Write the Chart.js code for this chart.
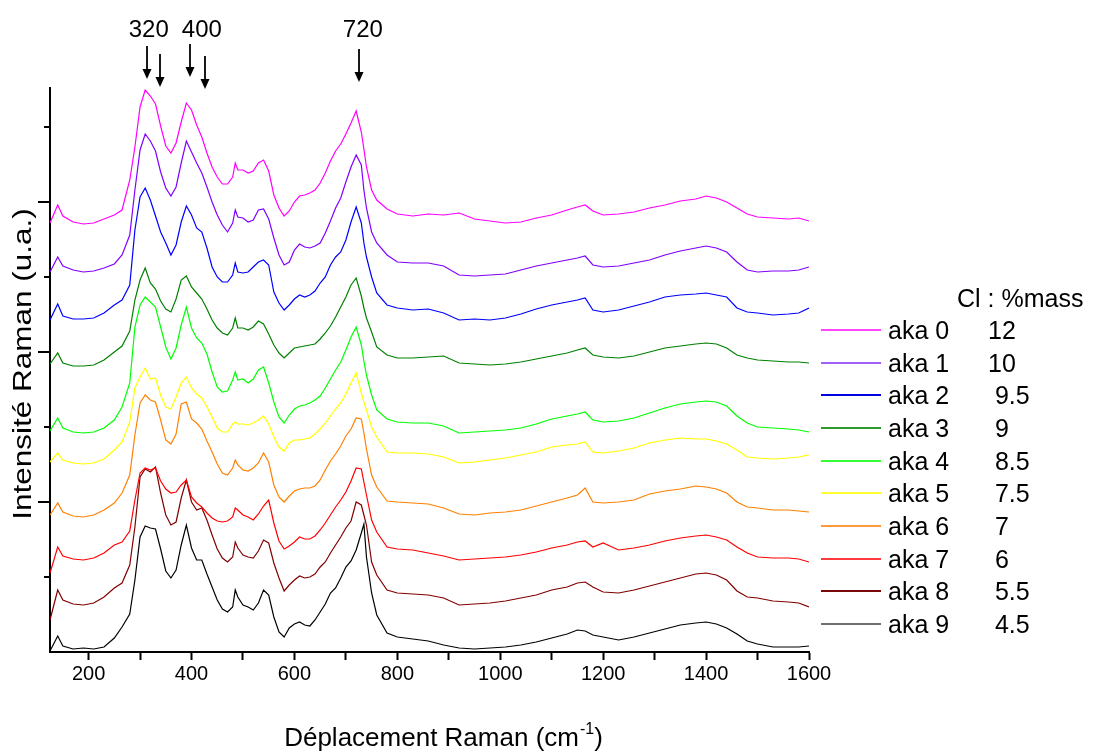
<!DOCTYPE html>
<html><head><meta charset="utf-8">
<script src="https://cdn.jsdelivr.net/npm/chart.js@4.4.0/dist/chart.umd.min.js"></script>
<style>html,body{margin:0;padding:0;background:#fff;}#wrap{width:1094px;height:752px;}</style>
</head><body><div id="wrap"><canvas id="c" width="1094" height="752"></canvas></div>
<script>
// Raman shift (cm-1) sampling grid
const wavenumbers = [125,140,150,170,190,210,230,250,265,280,290,300,
310,320,330,340,350,360,370,380,390,400,410,420,430,440,450,460,470,480,485,
490,500,510,520,530,540,550,560,570,580,590,600,610,620,630,640,650,660,670,680,690,700,710,720,730,735,
740,750,760,780,800,830,860,890,920,950,980,1010,1040,1070,1100,1130,1150,1165,1180,1200,
1230,1260,1290,1320,1350,1380,1400,1420,1440,1460,1480,1500,1530,1560,1580,1600];

// Stacked intensities (u.a.)
const aka0 = [429,447,436,430,428,429,433,437, 442,472,505,545,
562,556,548,526,506,499,509,530,549,542,527,515,499,485,475,468,468,475, 489,
482,482,479,481,489,492,481,457,444,436,441,450,456,457,459,462,469,479,491,501,508,518,529,541,520, 503,
485,462,452, 443,438, 436,438,437,439,433,431,429,430,434,437,442, 445,447,441,437,
438,440,444,447,451,453, 456,454,450,444,438,435, 434,433,434,431];
const aka1 = [380,395,386,382,380,381,384,388, 397,417,462,502,
518,511,501,480,464,456,465,489,511,500,489,479,465,450,437,427,420,429, 442,
435,434,430,432,442,443,433,414,397,387,390,402,408,405,404,406,409,419,431,444,454,470,485,497,487, 462,
444,420,409, 397,390, 389,389,386,377,376,377,378,382,386,389,392, 394,396,387,385,
386,389,392,397,401,404, 406,404,400,390,382,380, 381,381,382,385];
const aka2 = [332,348,336,333,333,334,339,347, 352,367,422,455,
464,452,436,420,409,397,407,430,446,437,424,420,404,385,375,370,370,377, 389,
380,379,380,385,390,392,387,360,349,342,347,353,357,355,357,361,369,375,387,395,400,412,430,445,429, 409,
395,375,359, 347,344, 342,343,339,332,333,332,334,338,343,347,350, 352,354,342,340,
342,346,350,355,357,358, 359,357,355,344,340,339, 337,338,339,344];
const aka3 = [288,299,289,286,286,287,292,300, 306,321,352,372,
384,369,363,351,343,340,353,372,376,365,359,353,343,332,324,319,317,324, 334,
324,324,322,325,331,328,318,307,299,294,299,304,305,306,307,308,313,319,326,335,345,355,367,374,356, 344,
334,320,305, 297,294, 294,295,296,289,288,287,288,290,293,296,299, 302,304,297,295,
294,296,300,304,306,308, 309,308,304,297,294,292, 291,290,290,289];
const aka4 = [221,234,224,220,219,220,224,232, 245,269,325,347,
355,350,345,325,305,293,304,327,345,324,314,309,298,280,265,260,261,272, 280,
272,273,269,273,282,285,269,250,235,229,237,243,246,247,249,252,256,264,273,282,290,302,315,325,307, 291,
277,257,242, 233,230, 229,229,226,219,220,221,222,224,228,233,236, 238,240,232,230,
231,234,239,244,248,250, 251,250,246,236,229,225, 224,223,222,220];
const aka5 = [190,199,192,189,188,189,193,202, 210,230,264,275,
284,273,274,257,245,243,255,269,275,264,258,254,245,235,224,220,220,228, 230,
228,228,227,229,232,236,228,215,205,201,209,212,212,213,214,218,223,229,236,243,249,258,269,279,259, 250,
242,225,215, 200,199, 199,198,195,189,190,192,194,197,200,205,207, 208,210,200,199,
201,204,209,212,214,213, 213,211,208,202,195,194, 193,194,195,197];
const aka6 = [137,149,140,136,135,137,142,149, 159,177,217,249,
257,252,250,232,212,208,218,248,250,233,229,223,211,200,188,179,177,184, 192,
187,182,181,184,189,199,190,167,155,150,156,161,163,164,164,166,172,182,191,198,206,216,223,234,233, 219,
203,177,165, 151,150, 149,148,144,138,137,139,140,142,146,150,154, 157,164,150,149,
150,152,158,161,163,166, 165,163,159,150,145,144, 142,142,141,140];
const aka7 = [79,105,96,93,92,94,99,107, 110,121,152,179,
184,182,184,171,163,159,160,167,172,155,149,145,139,134,131,130,131,135, 144,
142,137,135,132,138,146,152,129,111,103,106,110,115,113,113,116,122,129,137,145,152,160,171,184,183, 170,
157,132,120, 105,103, 102,99,96,92,93,94,95,97,100,104,107, 110,111,105,109,
102,104,107,111,114,116, 117,115,112,105,99,95, 94,94,93,90];
const aka8 = [32,62,52,48,47,49,55,64, 69,87,125,175,
183,180,185,159,137,127,130,154,172,150,142,144,132,117,103,94,90,95, 110,
104,97,95,94,101,112,109,89,74,61,67,72,76,74,75,78,85,90,99,107,115,124,131,150,147, 137,
127,90,77, 62,59, 58,57,54,47,48,49,51,54,57,62,65, 69,70,65,60,
59,62,66,70,74,78, 79,77,72,61,55,54, 51,50,49,45];
const aka9 = [1,16,6,3,4,3,5,14, 25,38,72,115,
126,124,123,103,81,74,82,107,127,104,92,92,78,65,52,43,40,45, 62,
55,47,45,42,49,62,57,35,20,15,24,28,30,27,26,32,40,48,59,64,74,85,91,102,119, 128,
95,59,37, 19,15, 13,11,7,4,3,4,5,7,10,14,18, 22,21,17,15,
12,15,19,23,27,29, 30,28,24,18,11,8, 5,5,5,6];

const sampleNames = ['aka 0','aka 1','aka 2','aka 3','aka 4','aka 5','aka 6','aka 7','aka 8','aka 9'];
const clMass = ['12','10','9.5','9','8.5','7.5','7','6','5.5','4.5'];
const seriesList = [aka0,aka1,aka2,aka3,aka4,aka5,aka6,aka7,aka8,aka9];
const lineColors = ['#ff00ff','#8000ff','#0000ff','#008000','#00ff00','#ffff00','#ff8000','#ff0000','#800000','#000000'];
const legendColors = ['#ff44ff','#a060f8','#0000e0','#2e9a2e','#33ff33','#ffff33','#ff9a3a','#ff3a3a','#7a0a0a','#707070'];

const xTickValues = [200,300,400,500,600,700,800,900,1000,1100,1200,1300,1400,1500,1600];
const yMajorTicks = [150,300,450];
const yMinorTicks = [75,225,375,525];

const peakLabels = ['320','400','720'];
const peakLabelPos = [317,420,733];
const arrowPos = [313,339,397,426,725];

const FONT = "'Liberation Sans', Arial, Helvetica, sans-serif";

const decor = {
  id: 'decor',
  afterDraw(chart) {
    const {ctx, chartArea: ca} = chart;
    const xs = chart.scales.x, ys = chart.scales.y;
    ctx.save();
    ctx.strokeStyle = '#000'; ctx.fillStyle = '#000'; ctx.lineWidth = 2;
    // y tick marks (major long, minor short)
    const tick = (v, len) => { const p = Math.round(ys.getPixelForValue(v)); ctx.beginPath(); ctx.moveTo(ca.left - len, p); ctx.lineTo(ca.left, p); ctx.stroke(); };
    yMajorTicks.forEach(v => tick(v, 12));
    yMinorTicks.forEach(v => tick(v, 6));
    // arrows
    const arrowTops = [46,54,44,56,49];
    arrowPos.forEach((w, i) => {
      const px = Math.round(xs.getPixelForValue(w));
      const top = arrowTops[i], tip = top + 33;
      ctx.lineWidth = 1.8;
      ctx.beginPath(); ctx.moveTo(px, top); ctx.lineTo(px, tip - 8); ctx.stroke();
      ctx.beginPath(); ctx.moveTo(px - 4.5, tip - 10); ctx.lineTo(px + 4.5, tip - 10); ctx.lineTo(px, tip); ctx.closePath(); ctx.fill();
    });
    // peak labels
    ctx.font = `24px ${FONT}`; ctx.textAlign = 'center'; ctx.textBaseline = 'alphabetic';
    peakLabels.forEach((t, i) => ctx.fillText(t, xs.getPixelForValue(peakLabelPos[i]), 37));
    // x title with superscript
    ctx.textAlign = 'left';
    const main = 'Déplacement Raman (cm', sup = '-1', close = ')';
    ctx.font = `26px ${FONT}`; const w1 = ctx.measureText(main).width, w3 = ctx.measureText(close).width;
    ctx.font = `16px ${FONT}`; const w2 = ctx.measureText(sup).width;
    const sx = 443 - (w1 + w2 + w3) / 2; const by = 746;
    ctx.font = `26px ${FONT}`; ctx.fillText(main, sx, by);
    ctx.font = `16px ${FONT}`; ctx.fillText(sup, sx + w1 + 1, by - 12);
    ctx.font = `26px ${FONT}`; ctx.fillText(close, sx + w1 + w2 + 1, by);
    // y title (slightly stretched along its length, as in the reference)
    ctx.save(); ctx.translate(31, 364); ctx.rotate(-Math.PI / 2); ctx.scale(1.21, 1);
    ctx.textAlign = 'center'; ctx.font = `26px ${FONT}`; ctx.fillText('Intensité Raman (u.a.)', 0, 0);
    ctx.restore();
    // legend
    ctx.textAlign = 'left'; ctx.font = `25px ${FONT}`;
    ctx.fillText('Cl : %mass', 957, 307);
    const spaceW = ctx.measureText(' ').width;
    sampleNames.forEach((n, i) => {
      const yy = 330 + i * 32.67;
      ctx.strokeStyle = legendColors[i]; ctx.lineWidth = 2;
      ctx.beginPath(); ctx.moveTo(821, Math.round(yy)); ctx.lineTo(881, Math.round(yy)); ctx.stroke();
      ctx.fillStyle = '#000';
      ctx.fillText(n, 888, yy + 9);
      const m = clMass[i];
      ctx.fillText(m, 988 + (parseFloat(m) < 10 ? spaceW : 0), yy + 9);
    });
    ctx.restore();
  }
};

new Chart(document.getElementById('c'), {
  type: 'line',
  data: {
    datasets: seriesList.map((s, i) => ({
      label: sampleNames[i],
      data: wavenumbers.map((w, j) => ({x: w, y: s[j]})),
      borderColor: lineColors[i], borderWidth: 1.2, pointRadius: 0, tension: 0, fill: false
    }))
  },
  options: {
    responsive: false, animation: false, devicePixelRatio: 1,
    layout: {padding: {left: 38, right: 285, top: 88, bottom: 60}},
    plugins: {legend: {display: false}, tooltip: {enabled: false}},
    scales: {
      x: {
        type: 'linear', min: 125, max: 1600,
        afterBuildTicks: s => { s.ticks = xTickValues.map(v => ({value: v})); },
        afterFit: s => { s.height = 40; },
        ticks: {callback: v => (v % 200 === 0 ? String(v) : ''), autoSkip: false, maxRotation: 0, color: '#000', padding: 2, font: {family: FONT, size: 20}},
        grid: {drawOnChartArea: false, drawTicks: true, tickLength: 8, tickWidth: 2, tickColor: '#000'},
        border: {display: true, color: '#000', width: 2}
      },
      y: {
        type: 'linear', min: 0, max: 564,
        afterFit: s => { s.width = 12; },
        ticks: {display: false},
        grid: {drawOnChartArea: false, drawTicks: false},
        border: {display: true, color: '#000', width: 2}
      }
    }
  },
  plugins: [decor]
});
</script></body></html>
